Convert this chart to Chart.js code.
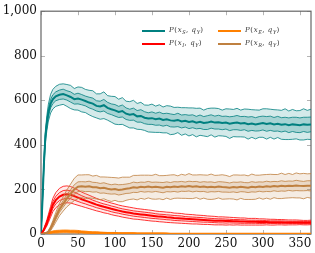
<!DOCTYPE html>
<html><head><meta charset="utf-8">
<script src="https://cdn.jsdelivr.net/npm/chart.js@4.4.1/dist/chart.umd.min.js"></script>
<style>
html,body{margin:0;padding:0;background:#fff;}
#wrap{position:relative;width:315px;height:253px;}
#legend{position:absolute;left:0;top:0;font-family:'DejaVu Serif',serif;font-style:italic;font-size:7px;color:#333;letter-spacing:0.6px;}
.item{position:absolute;white-space:nowrap;line-height:10px;}
.sw{position:absolute;height:2px;width:23px;}
sub{font-size:5px;vertical-align:-2px;letter-spacing:0.3px;}
.up{font-style:normal;}
</style></head>
<body><div id="wrap"><canvas id="c" width="315" height="253"></canvas>
<div id="legend"></div></div>
<script>
const days = [0,2,4,6,8,10,13,16,
20,25,30,35,40,45,50,55,60,65,
70,75,80,85,90,95,100,105,110,115,
120,125,130,135,140,145,150,155,160,165,
170,175,180,185,190,195,200,205,210,215,
220,225,230,235,240,245,250,255,260,265,
270,275,280,285,290,295,300,305,310,315,
320,325,330,335,340,345,350,355,360,365];

const sMean = [0,150,320,440,500,545,585,605,
618,625,628,622,615,605,608,603,597,590,
585,575,572,578,566,560,555,548,552,540,
535,538,528,530,522,518,520,515,518,512,
515,510,508,512,505,508,503,506,500,504,
498,500,505,500,502,498,500,495,498,500,
496,498,493,496,492,495,498,494,497,492,
495,490,493,488,492,490,488,492,490,492];
const sInner = [0,5,10,14,16,18,19,20,
20,21,22,21,23,22,24,23,22,24,
25,23,24,26,25,24,26,25,27,26,
25,27,26,28,27,26,28,27,29,28,
27,29,28,30,29,28,30,29,28,30,
29,31,30,29,31,30,29,31,30,32,
31,30,32,31,30,32,31,33,32,31,
33,32,31,33,32,34,33,32,34,33];
const sOuter = [0,10,20,28,34,38,42,44,
45,47,46,49,52,48,52,55,52,55,
58,54,57,60,55,58,62,57,60,56,
59,62,58,61,57,60,63,59,62,58,
61,64,60,57,62,59,63,60,64,61,
58,63,60,65,61,58,62,66,61,64,
60,63,67,62,65,61,64,68,63,66,
62,65,69,64,67,63,66,70,65,68];

const eMean = [0,1,2,3,4,5,7,9,
10,11,12,12,11,11,10,9,8,7,
6,6,5,5,4,4,4,3,3,3,
3,3,2,2,2,2,2,2,2,2,
2,1,1,1,1,1,1,1,1,1,
1,1,1,1,1,1,1,1,1,1,
1,1,1,1,1,1,1,1,1,1,
1,1,1,1,1,1,1,1,1,1];
const eInner = [0,0.5,1,1,1.5,2,2,2.5,
3,3,3,3,3,3,3,2.5,2.5,2,
2,2,2,1.5,1.5,1.5,1.5,1,1,1,
1,1,1,1,1,1,1,1,1,1,
0.5,0.5,0.5,0.5,0.5,0.5,0.5,0.5,0.5,0.5,
0.5,0.5,0.5,0.5,0.5,0.5,0.5,0.5,0.5,0.5,
0.5,0.5,0.5,0.5,0.5,0.5,0.5,0.5,0.5,0.5,
0.5,0.5,0.5,0.5,0.5,0.5,0.5,0.5,0.5,0.5];
const eOuter = [0,1,2,2,3,4,4,5,
6,6,6,6,6,6,6,5,5,4,
4,4,4,3,3,3,3,2,2,2,
2,2,2,2,2,2,2,2,2,2,
1,1,1,1,1,1,1,1,1,1,
1,1,1,1,1,1,1,1,1,1,
1,1,1,1,1,1,1,1,1,1,
1,1,1,1,1,1,1,1,1,1];

const iMean = [0,8,20,35,50,70,100,130,
152,168,176,178,176,170,163,156,150,144,
138,132,127,122,118,113,109,105,101,98,
95,92,90,88,86,84,82,80,78,77,
75,74,72,71,70,68,67,66,65,64,
63,62,61,60,59,59,58,58,57,57,
56,56,55,55,55,54,54,54,53,53,
53,53,52,52,52,52,52,51,51,52];
const iInner = [0,2,3,5,7,9,12,15,
17,18,19,19,18,18,17,16,15,15,
14,14,13,13,13,13,13,12,12,12,
12,12,12,12,12,12,12,11,11,11,
11,11,11,11,11,10,10,10,10,10,
10,9,9,9,9,9,9,8,8,8,
8,8,7,7,7,7,7,6,6,6,
6,6,6,5,5,5,5,5,5,5];
const iOuter = [0,3,6,10,14,18,24,30,
34,37,38,38,37,36,34,32,31,30,
29,28,27,27,26,26,26,25,25,25,
25,25,24,24,24,24,24,23,23,23,
23,23,22,22,22,21,21,21,20,20,
20,19,19,19,18,18,18,17,17,16,
16,16,15,15,15,14,14,13,13,13,
12,12,12,11,11,11,10,10,10,10];

const rMean = [0,1,2,3,5,10,25,45,
75,110,135,160,180,200,212,214,212,214,
210,210,205,207,203,200,202,198,200,203,
205,210,208,212,210,213,210,212,210,208,
212,210,213,211,214,212,215,212,214,211,
213,210,212,210,213,211,210,208,211,209,
212,210,208,212,210,213,211,214,212,215,
213,216,214,217,215,218,216,215,217,216];
const rInner = [0,0.5,1,1.5,2,3,5,7,
10,13,15,17,19,21,22,21,22,23,
22,21,22,23,22,21,22,23,22,21,
22,23,22,21,22,23,22,21,22,23,
22,21,22,23,22,21,22,23,22,21,
22,23,22,21,22,23,22,21,22,23,
22,21,22,23,22,21,22,23,22,21,
22,23,22,21,22,23,22,21,22,23];
const rOuter = [0,1,2,3,4,6,10,15,
22,28,32,38,44,50,53,51,54,52,
50,53,51,49,52,54,51,53,55,52,
50,53,55,52,54,51,53,56,52,54,
51,55,53,50,54,52,56,53,51,55,
52,54,57,53,51,55,53,50,54,56,
52,55,53,57,54,51,55,53,56,52,
54,57,53,55,52,56,54,57,53,55];

const xTicks = [0,50,100,150,200,250,300,350];
const yTicks = [0,200,400,600,800,1000];

const series = [
  {name:'S', mean:sMean, inner:sInner, outer:sOuter, rgb:[0,128,128], fo:0.17, fi:0.22},
  {name:'E', mean:eMean, inner:eInner, outer:eOuter, rgb:[255,128,0], fo:0.15, fi:0.2},
  {name:'I', mean:iMean, inner:iInner, outer:iOuter, rgb:[255,0,0], fo:0.08, fi:0.10},
  {name:'R', mean:rMean, inner:rInner, outer:rOuter, rgb:[191,128,64], fo:0.15, fi:0.18}
];

function pts(mean, w, sgn){ return days.map((d,i)=>({x:d, y:mean[i] + sgn*w[i]})); }

const datasets = [];
let ord = 1000;
series.forEach(s=>{
  const c = `rgb(${s.rgb.join(',')})`;
  const base = datasets.length;
  const edge = {borderColor:c, borderWidth:0.8, pointRadius:0, tension:0};
  datasets.push({...edge, data:pts(s.mean,s.outer,-1), fill:false, order:ord--});
  datasets.push({...edge, data:pts(s.mean,s.outer,1), fill:{target:base}, backgroundColor:`rgba(${s.rgb.join(',')},${s.fo})`, order:ord--});
  datasets.push({...edge, data:pts(s.mean,s.inner,-1), fill:false, order:ord--});
  datasets.push({...edge, data:pts(s.mean,s.inner,1), fill:{target:base+2}, backgroundColor:`rgba(${s.rgb.join(',')},${s.fi})`, order:ord--});
  datasets.push({borderColor:c, borderWidth:2, pointRadius:0, tension:0, fill:false, data:days.map((d,i)=>({x:d,y:s.mean[i]})), order:ord--});
});

const frame = {
  id:'frame',
  beforeDatasetsDraw(chart){
    const {ctx, chartArea:a, scales:{x,y}} = chart;
    ctx.save();
    ctx.strokeStyle='#b4b4b4'; ctx.lineWidth=1;
    xTicks.forEach(v=>{const p=Math.round(x.getPixelForValue(v))+0.5;
      ctx.beginPath(); ctx.moveTo(p,a.bottom); ctx.lineTo(p,a.bottom-4); ctx.moveTo(p,a.top); ctx.lineTo(p,a.top+4); ctx.stroke();});
    yTicks.forEach(v=>{const p=Math.round(y.getPixelForValue(v))+0.5;
      ctx.beginPath(); ctx.moveTo(a.left,p); ctx.lineTo(a.left+4,p); ctx.moveTo(a.right,p); ctx.lineTo(a.right-4,p); ctx.stroke();});
    ctx.strokeStyle='#666'; ctx.lineWidth=1.2;
    ctx.strokeRect(a.left, a.top, a.right-a.left, a.bottom-a.top);
    ctx.restore();
  }
};

const tickFont = {family:'DejaVu Serif', size:12};

new Chart(document.getElementById('c'), {
  type:'line',
  data:{datasets},
  options:{
    responsive:false, animation:false, devicePixelRatio:1,
    layout:{padding:{top:10,right:4,left:0,bottom:0}},
    plugins:{legend:{display:false}, tooltip:{enabled:false}},
    scales:{
      x:{type:'linear', min:0, max:365,
        afterFit:s=>{s.height=19;},
        afterBuildTicks:s=>{s.ticks=xTicks.map(v=>({value:v}));},
        grid:{display:false, drawTicks:false}, border:{display:false},
        ticks:{font:tickFont, color:'#111', padding:3, maxRotation:0, autoSkip:false}},
      y:{type:'linear', min:0, max:1000,
        afterFit:s=>{s.width=41;},
        afterBuildTicks:s=>{s.ticks=yTicks.map(v=>({value:v}));},
        grid:{display:false, drawTicks:false}, border:{display:false},
        ticks:{font:tickFont, color:'#111', padding:4, autoSkip:false,
          callback:v=>v.toLocaleString('en-US')}}
    }
  },
  plugins:[frame]
});

const leg = document.getElementById('legend');
const entries = [
  {s:'S', c:'rgb(0,128,128)', x:142, y:31},
  {s:'E', c:'rgb(255,128,0)', x:218, y:31},
  {s:'I', c:'rgb(255,0,0)', x:142, y:44},
  {s:'R', c:'rgb(191,128,64)', x:218, y:44}
];
entries.forEach(e=>{
  const sw=document.createElement('div'); sw.className='sw';
  sw.style.left=e.x+'px'; sw.style.top=(e.y-1)+'px'; sw.style.background=e.c;
  leg.appendChild(sw);
  const t=document.createElement('div'); t.className='item';
  t.style.left=(e.x+27)+'px'; t.style.top=(e.y-6)+'px';
  t.innerHTML=`P<span class="up">(</span>x<sub>${e.s}</sub><span class="up">,</span> q<sub>Y</sub><span class="up">)</span>`;
  leg.appendChild(t);
});
</script></body></html>
